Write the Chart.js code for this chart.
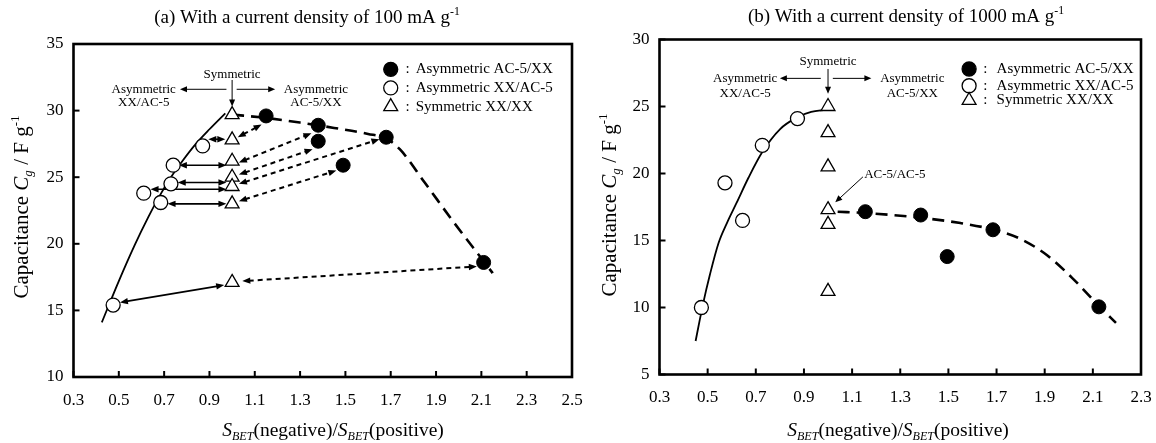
<!DOCTYPE html>
<html>
<head>
<meta charset="utf-8">
<script src="https://cdn.jsdelivr.net/npm/chart.js@4.4.1/dist/chart.umd.min.js"></script>
<style>
  html, body { margin: 0; padding: 0; background: #fff; }
  #wrap { position: relative; width: 1156px; height: 443px; overflow: hidden; }
  #chartA { position: absolute; left: 0; top: 0; }
  #chartB { position: absolute; left: 578px; top: 0; }
</style>
</head>
<body>
<div id="wrap">
  <canvas id="chartA" width="600" height="443"></canvas>
  <canvas id="chartB" width="578" height="443"></canvas>
</div>
<script>
'use strict';
// ---- (a) 100 mA g-1 ----
const xTicksA = [0.3, 0.5, 0.7, 0.9, 1.1, 1.3, 1.5, 1.7, 1.9, 2.1, 2.3, 2.5];
const yTicksA = [10, 15, 20, 25, 30, 35];
const filledA = [[1.15, 29.6], [1.38, 28.9], [1.38, 27.7], [1.49, 25.9], [1.68, 28.0], [2.11, 18.6]];
const openA = [[0.87, 27.35], [0.74, 25.9], [0.73, 24.5], [0.61, 23.8], [0.685, 23.1], [0.475, 15.4]];
const symA = [[1.0, 29.7], [1.0, 27.8], [1.0, 26.2], [1.0, 25.0], [1.0, 24.3], [1.0, 23.0], [1.0, 17.1]];
const fitSolidA = [[0.425, 14.1], [0.5, 17.2], [0.57, 19.9], [0.63, 22.0], [0.68, 23.6], [0.73, 25.0],
  [0.78, 26.2], [0.84, 27.5], [0.9, 28.6], [0.97, 29.8]];
const fitDashA = [[1.0, 29.7], [1.15, 29.45], [1.3, 29.1], [1.45, 28.7], [1.6, 28.25], [1.68, 27.9],
  [1.74, 27.1], [1.85, 24.6], [1.97, 21.8], [2.06, 19.8], [2.15, 17.8]];
// pairs linked by double arrows (from, to)
const solidLinksA = [[0.895, 27.85, 0.97, 27.85], [0.765, 25.9, 0.975, 25.9], [0.76, 24.6, 0.975, 24.6],
  [0.64, 24.1, 0.975, 24.1], [0.715, 23.0, 0.975, 23.0], [0.505, 15.6, 0.965, 16.9]];
const dashLinksA = [[1.025, 28.0, 1.13, 28.95], [1.03, 26.1, 1.35, 28.3], [1.03, 25.2, 1.355, 27.1],
  [1.03, 24.5, 1.65, 27.85], [1.03, 23.2, 1.46, 25.5], [1.045, 17.2, 2.08, 18.3]];

// ---- (b) 1000 mA g-1 ----
const xTicksB = [0.3, 0.5, 0.7, 0.9, 1.1, 1.3, 1.5, 1.7, 1.9, 2.1, 2.3];
const yTicksB = [5, 10, 15, 20, 25, 30];
const filledB = [[1.155, 17.15], [1.385, 16.9], [1.495, 13.8], [1.685, 15.8], [2.125, 10.05]];
const openB = [[0.873, 24.1], [0.727, 22.1], [0.572, 19.3], [0.645, 16.5], [0.474, 10.0]];
const symB = [[1.0, 25.0], [1.0, 23.05], [1.0, 20.5], [1.0, 17.3], [1.0, 16.2], [1.0, 11.2]];
const fitSolidB = [[0.45, 7.5], [0.48, 10.2], [0.51, 12.5], [0.545, 14.8], [0.58, 16.3], [0.62, 17.8],
  [0.67, 19.7], [0.727, 21.6], [0.8, 23.3], [0.873, 24.2], [0.93, 24.6], [0.99, 24.75]];
const fitDashB = [[1.04, 17.15], [1.155, 17.05], [1.383, 16.7], [1.55, 16.3], [1.69, 15.8], [1.79, 15.2],
  [1.91, 13.9], [2.02, 12.1], [2.126, 10.1], [2.196, 8.85]];

const legendNames = ['Asymmetric AC-5/XX', 'Asymmetric XX/AC-5', 'Symmetric XX/XX'];
const FONT = '"Liberation Serif", "Times New Roman", serif';

function pts(arr) { return arr.map(p => ({ x: p[0], y: p[1] })); }

function arrowHead(ctx, x, y, ang, len, wid) {
  ctx.beginPath();
  ctx.moveTo(x, y);
  ctx.lineTo(x - len * Math.cos(ang) + wid * Math.sin(ang), y - len * Math.sin(ang) - wid * Math.cos(ang));
  ctx.lineTo(x - len * Math.cos(ang) - wid * Math.sin(ang), y - len * Math.sin(ang) + wid * Math.cos(ang));
  ctx.closePath();
  ctx.fill();
}

function drawArrow(ctx, x1, y1, x2, y2, opt) {
  const ang = Math.atan2(y2 - y1, x2 - x1);
  const len = opt.head, wid = opt.wid;
  ctx.save();
  ctx.strokeStyle = '#000';
  ctx.fillStyle = '#000';
  ctx.lineWidth = opt.lw;
  ctx.setLineDash(opt.dash || []);
  ctx.beginPath();
  const s = opt.both ? len * 0.8 : 0;
  ctx.moveTo(x1 + s * Math.cos(ang), y1 + s * Math.sin(ang));
  ctx.lineTo(x2 - len * 0.8 * Math.cos(ang), y2 - len * 0.8 * Math.sin(ang));
  ctx.stroke();
  ctx.setLineDash([]);
  arrowHead(ctx, x2, y2, ang, len, wid);
  if (opt.both) arrowHead(ctx, x1, y1, ang + Math.PI, len, wid);
  ctx.restore();
}

function drawRich(ctx, parts, x, y, size, rot) {
  ctx.save();
  ctx.translate(x, y);
  if (rot) ctx.rotate(rot);
  const fontOf = p => (p.i ? 'italic ' : '') + ((p.sub || p.sup) ? size * 0.62 : size) + 'px ' + FONT;
  let w = 0;
  parts.forEach(p => { ctx.font = fontOf(p); w += ctx.measureText(p.t).width; });
  let cx = -w / 2;
  ctx.textBaseline = 'middle';
  ctx.textAlign = 'left';
  ctx.fillStyle = '#000';
  parts.forEach(p => {
    ctx.font = fontOf(p);
    ctx.fillText(p.t, cx, p.sub ? size * 0.3 : (p.sup ? -size * 0.32 : 0));
    cx += ctx.measureText(p.t).width;
  });
  ctx.restore();
}

function drawMarker(ctx, kind, x, y) {
  ctx.save();
  ctx.lineWidth = 1.3;
  ctx.strokeStyle = '#000';
  ctx.beginPath();
  if (kind === 'tri') {
    const r = 8;
    ctx.moveTo(x, y - r);
    ctx.lineTo(x + r * Math.sin(2 * Math.PI / 3), y + r / 2);
    ctx.lineTo(x - r * Math.sin(2 * Math.PI / 3), y + r / 2);
    ctx.closePath();
    ctx.fillStyle = '#fff';
  } else {
    ctx.arc(x, y, 7, 0, Math.PI * 2);
    ctx.fillStyle = kind === 'filled' ? '#000' : '#fff';
  }
  ctx.fill();
  ctx.stroke();
  ctx.restore();
}

const decorPlugin = {
  id: 'decor',
  beforeDatasetsDraw(chart) {
    const o = chart.options.plugins.decor;
    const ctx = chart.ctx, xs = chart.scales.x, ys = chart.scales.y;
    const px = v => xs.getPixelForValue(v), py = v => ys.getPixelForValue(v);
    (o.solidLinks || []).forEach(a => drawArrow(ctx, px(a[0]), py(a[1]), px(a[2]), py(a[3]),
      { lw: 1.6, head: 8, wid: 3.2, both: true }));
    (o.dashLinks || []).forEach(a => drawArrow(ctx, px(a[0]), py(a[1]), px(a[2]), py(a[3]),
      { lw: 2, head: 8, wid: 3.2, both: true, dash: [5, 4] }));
  },
  afterDraw(chart) {
    const o = chart.options.plugins.decor;
    const ctx = chart.ctx, xs = chart.scales.x, ys = chart.scales.y, ca = chart.chartArea;
    const px = v => xs.getPixelForValue(v), py = v => ys.getPixelForValue(v);
    // frame and inward ticks
    ctx.save();
    ctx.strokeStyle = '#000';
    ctx.lineWidth = 2.6;
    ctx.strokeRect(ca.left, ca.top, ca.right - ca.left, ca.bottom - ca.top);
    ctx.lineWidth = 2;
    xs.ticks.forEach(t => {
      const x = px(t.value);
      ctx.beginPath(); ctx.moveTo(x, ca.bottom); ctx.lineTo(x, ca.bottom - 6); ctx.stroke();
    });
    ys.ticks.forEach(t => {
      const y = py(t.value);
      ctx.beginPath(); ctx.moveTo(ca.left, y); ctx.lineTo(ca.left + 6, y); ctx.stroke();
    });
    ctx.restore();
    // annotation labels and arrows
    ctx.save();
    ctx.fillStyle = '#000';
    ctx.font = '13px ' + FONT;
    ctx.textBaseline = 'middle';
    o.notes.forEach(n => {
      ctx.textAlign = n[3] || 'center';
      ctx.fillText(n[0], px(n[1]), py(n[2]));
    });
    ctx.restore();
    o.pointers.forEach(a => drawArrow(ctx, px(a[0]), py(a[1]), px(a[2]), py(a[3]),
      { lw: 1, head: 7, wid: 3, both: false }));
    // legend
    const kinds = ['filled', 'open', 'tri'];
    ctx.save();
    ctx.fillStyle = '#000';
    ctx.font = '15px ' + FONT;
    ctx.textBaseline = 'middle';
    ctx.textAlign = 'left';
    o.legendRows.forEach((yv, i) => {
      const y = py(yv);
      drawMarker(ctx, kinds[i], px(o.legendX[0]), y);
      ctx.fillText(':', px(o.legendX[1]), y);
      ctx.fillText(legendNames[i], px(o.legendX[2]), y);
    });
    ctx.restore();
    // titles
    drawRich(ctx, o.title, o.titlePos[0], o.titlePos[1], 19);
    drawRich(ctx, [{ t: 'Capacitance ' }, { t: 'C', i: true }, { t: 'g', i: true, sub: true }, { t: ' / F g' }, { t: '-1', sup: true }],
      o.yTitlePos[0], o.yTitlePos[1], 21, -Math.PI / 2);
    drawRich(ctx, [{ t: 'S', i: true }, { t: 'BET', i: true, sub: true }, { t: '(negative)/' },
      { t: 'S', i: true }, { t: 'BET', i: true, sub: true }, { t: '(positive)' }],
      o.xTitlePos[0], o.xTitlePos[1], 19.5);
  }
};

function buildChart(id, o) {
  const ctx = document.getElementById(id).getContext('2d');
  const tickFont = { family: FONT, size: 17 };
  return new Chart(ctx, {
    type: 'scatter',
    data: {
      datasets: [
        { data: pts(o.filled), pointStyle: 'circle', pointRadius: 7, backgroundColor: '#000', borderColor: '#000', order: 0 },
        { data: pts(o.open), pointStyle: 'circle', pointRadius: 7, backgroundColor: '#fff', borderColor: '#000', borderWidth: 1.3, order: 0 },
        { data: pts(o.sym), pointStyle: 'triangle', pointRadius: 8, backgroundColor: '#fff', borderColor: '#000', borderWidth: 1.3, order: 0 },
        { type: 'line', data: pts(o.fitSolid), borderColor: '#000', borderWidth: 1.8, pointRadius: 0,
          cubicInterpolationMode: 'monotone', fill: false, order: 2 },
        { type: 'line', data: pts(o.fitDash), borderColor: '#000', borderWidth: 2.6, borderDash: [12, 7], pointRadius: 0,
          cubicInterpolationMode: 'monotone', fill: false, order: 2 }
      ]
    },
    options: {
      responsive: false,
      animation: false,
      events: [],
      layout: { padding: { top: o.pad[0], right: o.pad[1], bottom: 0, left: 0 } },
      plugins: {
        legend: { display: false },
        tooltip: { enabled: false },
        decor: o.decor
      },
      scales: {
        x: {
          type: 'linear', min: o.xTicks[0], max: o.xTicks[o.xTicks.length - 1],
          grid: { display: false, drawTicks: false }, border: { display: false },
          afterBuildTicks: s => { s.ticks = o.xTicks.map(v => ({ value: v })); },
          afterFit: s => { s.height = o.xAxisH; s.paddingLeft = 0; s.paddingRight = 0; },
          ticks: { color: '#000', font: tickFont, padding: 13, maxRotation: 0, autoSkip: false, callback: v => v.toFixed(1) }
        },
        y: {
          type: 'linear', min: o.yTicks[0], max: o.yTicks[o.yTicks.length - 1],
          grid: { display: false, drawTicks: false }, border: { display: false },
          afterBuildTicks: s => { s.ticks = o.yTicks.map(v => ({ value: v })); },
          afterFit: s => { s.width = o.yAxisW; s.paddingTop = 0; s.paddingBottom = 0; },
          ticks: { color: '#000', font: tickFont, padding: 10, callback: v => String(v) }
        }
      }
    },
    plugins: [decorPlugin]
  });
}

buildChart('chartA', {
  xTicks: xTicksA, yTicks: yTicksA, filled: filledA, open: openA, sym: symA,
  fitSolid: fitSolidA, fitDash: fitDashA,
  pad: [44, 28], yAxisW: 73.5, xAxisH: 66,
  decor: {
    solidLinks: solidLinksA, dashLinks: dashLinksA,
    notes: [['Symmetric', 1.0, 32.7], ['Asymmetric', 0.61, 31.6], ['XX/AC-5', 0.61, 30.6],
      ['Asymmetric', 1.37, 31.6], ['AC-5/XX', 1.37, 30.6]],
    pointers: [[1.0, 32.3, 1.0, 30.3], [0.975, 31.6, 0.77, 31.6], [1.02, 31.6, 1.19, 31.6]],
    legendRows: [33.1, 31.7, 30.3], legendX: [1.70, 1.765, 1.81],
    title: [{ t: '(a) With a current density of 100 mA g' }, { t: '-1', sup: true }],
    titlePos: [307, 18], yTitlePos: [22, 207], xTitlePos: [333, 431]
  }
});

buildChart('chartB', {
  xTicks: xTicksB, yTicks: yTicksB, filled: filledB, open: openB, sym: symB,
  fitSolid: fitSolidB, fitDash: fitDashB,
  pad: [39.5, 15], yAxisW: 81.5, xAxisH: 68.5,
  decor: {
    notes: [['Symmetric', 1.0, 28.35], ['Asymmetric', 0.656, 27.1], ['XX/AC-5', 0.656, 26.0],
      ['Asymmetric', 1.35, 27.1], ['AC-5/XX', 1.35, 26.0], ['AC-5/AC-5', 1.15, 19.9, 'left']],
    pointers: [[1.0, 27.8, 1.0, 25.95], [0.97, 27.1, 0.8, 27.1], [1.02, 27.1, 1.18, 27.1], [1.145, 19.75, 1.03, 17.85]],
    legendRows: [27.8, 26.55, 25.45], legendX: [1.586, 1.645, 1.70],
    title: [{ t: '(b) With a current density of 1000 mA g' }, { t: '-1', sup: true }],
    titlePos: [328, 17], yTitlePos: [32, 205], xTitlePos: [320, 431]
  }
});
</script>
</body>
</html>
